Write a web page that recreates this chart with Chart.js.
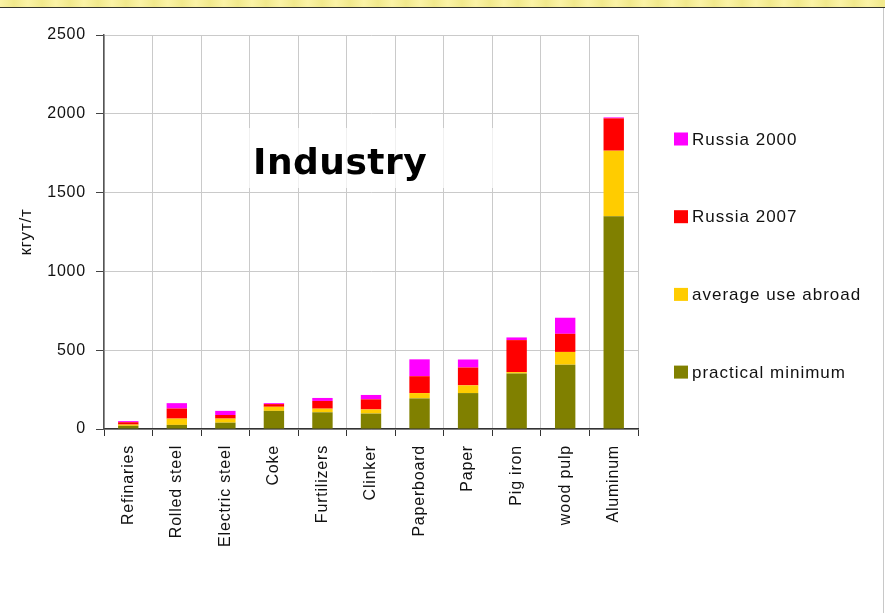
<!DOCTYPE html>
<html>
<head>
<meta charset="utf-8">
<script src="https://cdn.jsdelivr.net/npm/chart.js@4"></script>
<style>
	html, body { margin: 0; padding: 0; background: #fff; }
	#wrap { position: relative; width: 885px; height: 613px; overflow: hidden; }
	#band {
		position: absolute; left: 0; top: 0; width: 885px; height: 7px;
		background: repeating-linear-gradient(90deg, #fbf3a6 0px, #f1e98c 14px, #fbf3a6 28px);
		border-bottom: 1.5px solid #34342a;
	}
	#edge { position: absolute; right: 1px; top: 8px; width: 1px; height: 605px; background: #c8c8c8; }
	canvas { position: absolute; left: 0; top: 0; }
</style>
</head>
<body>
<div id="wrap">
	<canvas id="chart" width="885" height="613"></canvas>
	<div id="band"></div>
	<div id="edge"></div>
</div>
<script>
// categories
const categories = ['Refinaries', 'Rolled steel', 'Electric steel', 'Coke', 'Furtilizers', 'Clinker',
	'Paperboard', 'Paper', 'Pig iron', 'wood pulp', 'Aluminum'];

// stacked series, bottom to top (kgce per tonne)
const practicalMinimum = [20, 26, 40, 115, 106, 98, 194, 228, 352, 408, 1350];
const averageUseAbroad = [8, 40, 26, 26, 23, 26, 34, 49, 9, 81, 416];
const russia2007 = [15, 64, 23, 17, 49, 64, 107, 113, 203, 115, 205];
const russia2000 = [7, 34, 26, 6, 19, 28, 107, 51, 17, 102, 6];

const yTicks = [0, 500, 1000, 1500, 2000, 2500];

const chartEl = document.getElementById('chart');
const tickFont = { family: 'Liberation Sans, Arial, sans-serif', size: 16 };

// spread the glyphs a bit, like the old Windows rendering
let letterSpacing = {
	id: 'letterSpacing',
	beforeUpdate (chart) { chart.ctx.letterSpacing = '0.8px'; },
	beforeDraw (chart) { chart.ctx.letterSpacing = '0.8px'; },
};

// the "Industry" caption in its pale box
let captionBox = {
	id: 'captionBox',
	afterDatasetsDraw (chart) {
		let { ctx } = chart;
		ctx.save();
		ctx.fillStyle = 'rgba(255, 255, 255, 0.72)';
		ctx.fillRect(232, 128, 268, 60);
		ctx.letterSpacing = '0.5px';
		ctx.fillStyle = '#000';
		ctx.font = 'bold 36px "DejaVu Sans", sans-serif';
		ctx.textBaseline = 'alphabetic';
		ctx.fillText('Industry', 253, 174);
		ctx.restore();
	},
};

// legend on the right, top item is the top of the stack
let sideLegend = {
	id: 'sideLegend',
	afterDraw (chart) {
		let { ctx } = chart;
		let items = chart.data.datasets.slice().reverse();
		ctx.save();
		ctx.letterSpacing = '1px';
		ctx.font = '17px "Liberation Sans", Arial, sans-serif';
		ctx.textBaseline = 'middle';
		items.forEach((ds, i) => {
			let y = 139 + i * 77.7;
			ctx.fillStyle = ds.backgroundColor;
			ctx.fillRect(674, y - 6.5, 14, 13);
			ctx.fillStyle = '#111';
			ctx.fillText(ds.label, 692, y + 1);
		});
		ctx.restore();
	},
};

new Chart(chartEl, {
	type: 'bar',
	data: {
		labels: categories,
		datasets: [
			{ label: 'practical minimum', data: practicalMinimum, backgroundColor: '#808000' },
			{ label: 'average use abroad', data: averageUseAbroad, backgroundColor: '#FFCC00' },
			{ label: 'Russia 2007', data: russia2007, backgroundColor: '#FF0000' },
			{ label: 'Russia 2000', data: russia2000, backgroundColor: '#FF00FF' },
		],
	},
	options: {
		responsive: false,
		animation: false,
		layout: { padding: { top: 35, right: 247, bottom: 0, left: 0 } },
		datasets: { bar: { barPercentage: 0.42, categoryPercentage: 1, borderWidth: 0 } },
		plugins: {
			legend: { display: false },
			tooltip: { enabled: false },
		},
		scales: {
			x: {
				stacked: true,
				afterFit: (scale) => { scale.height = 184; },
				grid: { offset: true, color: '#cacaca', tickColor: '#333', tickLength: 7 },
				border: { color: '#333', width: 1.5 },
				ticks: { color: '#111', font: tickFont, minRotation: 90, maxRotation: 90, padding: 9 },
			},
			y: {
				stacked: true,
				min: 0,
				max: 2500,
				afterFit: (scale) => { scale.width = 104; },
				afterBuildTicks: (scale) => { scale.ticks = yTicks.map(v => ({ value: v })); },
				grid: { color: '#cacaca', tickColor: '#444', tickLength: 8 },
				border: { color: '#555', width: 1.5 },
				ticks: { color: '#111', font: tickFont, padding: 10, callback: (v) => String(v) },
				title: {
					display: true,
					text: 'кгут/т',
					color: '#111',
					font: { family: 'Liberation Sans, Arial, sans-serif', size: 17 },
					padding: { top: 16, bottom: 0 },
				},
			},
		},
	},
	plugins: [ letterSpacing, captionBox, sideLegend ],
});
</script>
</body>
</html>
